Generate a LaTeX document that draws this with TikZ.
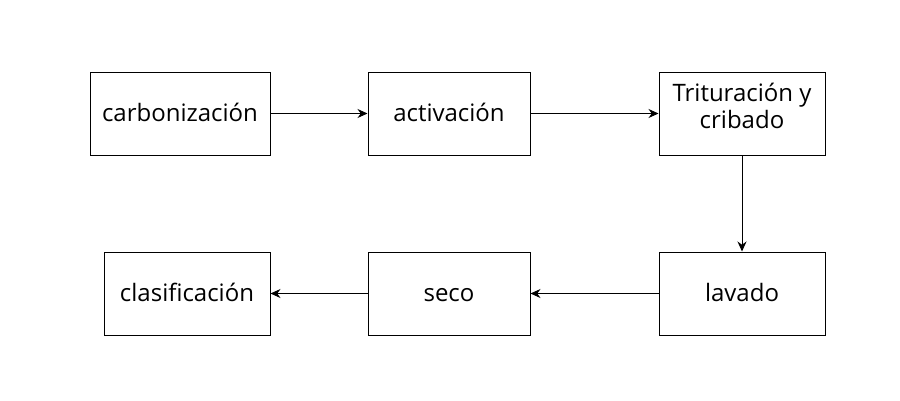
\documentclass[tikz,border=0pt]{standalone}
\usepackage{fontspec}
\setmainfont{Open Sans}
\usetikzlibrary{arrows.meta}
\begin{document}
\begin{tikzpicture}[x=1pt,y=-1pt,
  box/.style={draw,line width=1pt,minimum height=83pt,align=center,font=\fontsize{24}{27}\selectfont,inner sep=0pt,text height=19pt,text depth=3pt},
  arr/.style={-{Stealth[length=10pt,width=9pt]},line width=1pt}]
\useasboundingbox (0,0) rectangle (900,400);
\node[box,minimum width=180pt] (a) at (180,113.5) {carbonización};
\node[box,minimum width=162pt] (b) at (449,113.5) {activación};
\node[box,minimum width=166pt,text height=34pt,text depth=4pt] (c) at (742,113.5) {Trituración y\\cribado};
\node[box,minimum width=166pt] (d) at (742,293.5) {lavado};
\node[box,minimum width=162pt] (e) at (449,293.5) {seco};
\node[box,minimum width=166pt] (f) at (187,293.5) {clasificación};
\draw[arr] (a) -- (b);
\draw[arr] (b) -- (c);
\draw[arr] (c) -- (d);
\draw[arr] (d) -- (e);
\draw[arr] (e) -- (f);
\end{tikzpicture}
\end{document}
